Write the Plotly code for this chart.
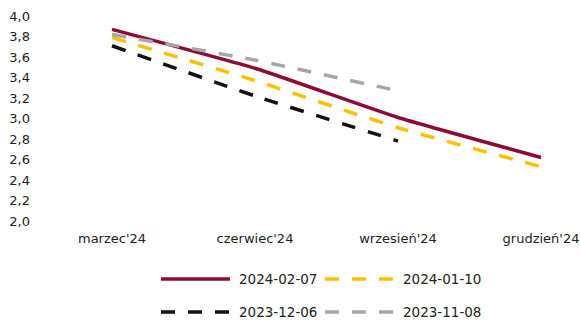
import plotly.graph_objects as go

categories = ["marzec'24", "czerwiec'24", "wrzesień'24", "grudzień'24"]
s_20240207 = [3.87, 3.49, 3.01, 2.62]
s_20240110 = [3.79, 3.37, 2.91, 2.53]
s_20231206 = [3.71, 3.22, 2.78, None]
s_20231108 = [3.82, 3.57, 3.27, None]
series_names = ["2024-02-07", "2024-01-10", "2023-12-06", "2023-11-08"]
y_ticks = [2.0, 2.2, 2.4, 2.6, 2.8, 3.0, 3.2, 3.4, 3.6, 3.8, 4.0]

colors = ["#8E0B38", "#FFC000", "#111111", "#A6A6A6"]
dashes = ["solid", "14px,13px", "14px,13px", "14px,13px"]
data = [s_20240207, s_20240110, s_20231206, s_20231108]

W, H = 580, 321
L, R, T, B = 31, 0, 16, 100
pw, ph = W - L - R, H - T - B
step = 143.0
x0px = 112.0
r0 = -(x0px - L) / step
r1 = r0 + pw / step

xs = list(range(len(categories)))

fig = go.Figure()
for name, vals, c, d in zip(series_names, data, colors, dashes):
    fig.add_trace(go.Scatter(
        x=xs, y=vals, mode="lines", name=name,
        line=dict(color=c, width=3.5, dash=d, shape="spline", smoothing=0.4),
        showlegend=False, connectgaps=False, hoverinfo="skip",
    ))

def px_x(p):
    return (p - L) / pw

def px_y(p):
    return (H - B - p) / ph

# manual legend
leg_pos = [(161, 279), (325, 279), (161, 312), (325, 312)]
for (lx, ly), name, c, d in zip(leg_pos, series_names, colors, dashes):
    fig.add_shape(type="line", xref="paper", yref="paper",
                  x0=px_x(lx), x1=px_x(lx + 69), y0=px_y(ly), y1=px_y(ly),
                  line=dict(color=c, width=3.5, dash=d))
    fig.add_annotation(xref="paper", yref="paper", x=px_x(lx + 76), y=px_y(ly),
                       text=name, showarrow=False, xanchor="left", yanchor="middle",
                       font=dict(size=13.5, color="#222222"))

fig.update_layout(
    width=W, height=H,
    margin=dict(l=L, r=R, t=T, b=B),
    paper_bgcolor="white", plot_bgcolor="white",
    separators=", ",
    font=dict(family="DejaVu Sans", size=13, color="#222222"),
    xaxis=dict(range=[r0, r1], tickmode="array", tickvals=xs, ticktext=categories,
               showgrid=False, zeroline=False, showline=False, ticks="",
               ticklabelstandoff=8),
    yaxis=dict(range=[2.0, 4.0], tickmode="array", tickvals=y_ticks,
               tickformat=".1f", showgrid=False, zeroline=False, showline=False, ticks=""),
    showlegend=False,
)

fig.write_html("out.html")
